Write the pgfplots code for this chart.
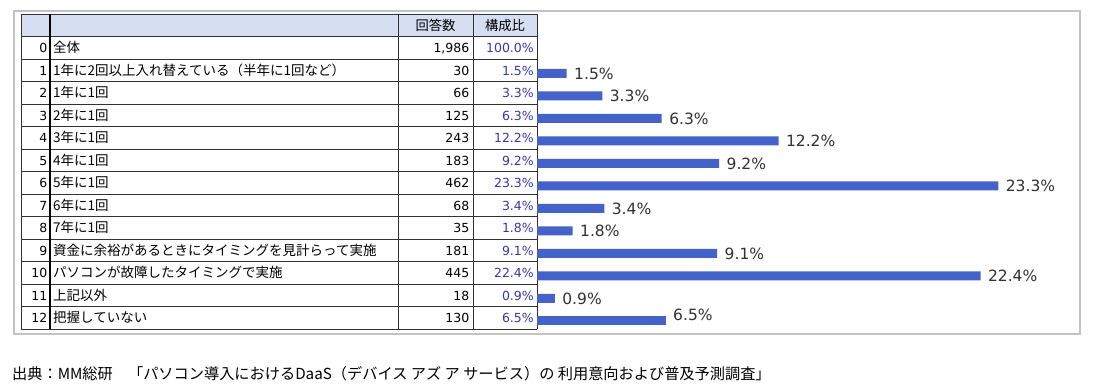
\documentclass[border=0pt]{standalone}
\usepackage{pgfplots}
\pgfplotsset{compat=1.18}
\usepackage{fontspec}
\setmainfont{DejaVu Sans}
\newfontfamily\jp{Noto Sans CJK JP}
\definecolor{barblue}{RGB}{68,98,200}
\definecolor{pctblue}{RGB}{55,55,175}
\definecolor{hdr}{RGB}{214,222,242}
\definecolor{gridc}{RGB}{50,50,50}
\definecolor{framec}{RGB}{195,195,195}
\definecolor{lblc}{RGB}{50,50,50}
\begin{document}
\begin{tikzpicture}
\begin{scope}[x=1pt,y=1pt]
\path[use as bounding box] (0,0) rectangle (1098,-391);
\fill[white] (0,0) rectangle (1098,-391);
\draw[framec, line width=1.5pt] (14,-11) rectangle (1080,-334);
\fill[hdr] (21,-14) rectangle (537,-36.7);
% horizontal lines
\draw[gridc, line width=0.8pt] (21,-14) -- (537,-14);
\foreach \i in {0,...,13} {
  \draw[gridc, line width=0.8pt] (21,{-36.7-22.5*\i}) -- (537,{-36.7-22.5*\i});
}
% vertical lines
\foreach \xx in {21,398,473,537} {
  \draw[gridc, line width=0.8pt] (\xx,-14) -- (\xx,-329.2);
}
\draw[black, line width=1.3pt] (50,-14) -- (50,-329.2);
% header
\node[font=\jp\fontsize{13.3}{15}\selectfont, anchor=base] at (435.5,-30) {回答数};
\node[font=\jp\fontsize{13.3}{15}\selectfont, anchor=base] at (505,-30) {構成比};
% rows
\foreach \i/\lab/\n/\p in {
 0/全体/1{,}986/100.0,
 1/1年に2回以上入れ替えている（半年に1回など）/30/1.5,
 2/1年に1回/66/3.3,
 3/2年に1回/125/6.3,
 4/3年に1回/243/12.2,
 5/4年に1回/183/9.2,
 6/5年に1回/462/23.3,
 7/6年に1回/68/3.4,
 8/7年に1回/35/1.8,
 9/資金に余裕があるときにタイミングを見計らって実施/181/9.1,
 10/パソコンが故障したタイミングで実施/445/22.4,
 11/上記以外/18/0.9,
 12/把握していない/130/6.5} {
  \pgfmathsetmacro\yb{-36.7-22.5*\i-15.8}
  \node[font=\fontsize{12.5}{14}\selectfont, anchor=base east, inner sep=0pt] at (47.5,\yb) {\i};
  \node[font=\jp\fontsize{13.5}{15}\selectfont, anchor=base west, inner sep=0pt] at (53,\yb) {\lab};
  \node[font=\fontsize{12.5}{14}\selectfont, anchor=base east, inner sep=0pt] at (469.5,\yb) {\n};
  \node[font=\fontsize{12.5}{14}\selectfont, anchor=base east, inner sep=0pt, text=pctblue] at (534,\yb) {\p\%};
}
% footer
\node[font=\jp\fontsize{15.2}{17}\selectfont, anchor=base west, inner sep=0pt] at (12,-379) {出典：MM総研　「パソコン導入におけるDaaS（デバイス アズ ア サービス）の 利用意向および普及予測調査」};
\end{scope}
\begin{axis}[
  at={(537pt,-62.2pt)}, anchor=north west,
  scale only axis, width=495pt, height=270pt,
  xmin=0, xmax=25, ymin=0.5, ymax=12.5, y dir=reverse,
  hide axis, clip=false,
  xbar, bar width=9pt, bar shift=0pt,
  /pgf/number format/assume math mode=true,
  nodes near coords={\pgfmathprintnumber[fixed,fixed zerofill,precision=1,assume math mode=true]{\pgfplotspointmeta}\%},
  nodes near coords align={horizontal},
  every node near coord/.append style={font=\fontsize{15.5}{18}\selectfont, text=lblc, xshift=4pt},
]
\addplot[fill=barblue, draw=none] coordinates {
 (1.5,1) (3.3,2) (6.3,3) (12.2,4) (9.2,5) (23.3,6) (3.4,7) (1.8,8) (9.1,9) (22.4,10) (0.9,11)
};
\addplot[fill=barblue, draw=none, every node near coord/.append style={yshift=6pt}] coordinates {
 (6.5,12)
};
\end{axis}
\end{tikzpicture}
\end{document}
